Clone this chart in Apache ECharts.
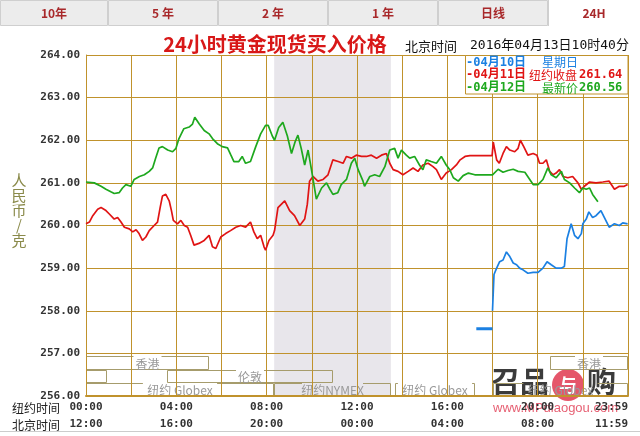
<!DOCTYPE html>
<html><head><meta charset="utf-8">
<script src="https://cdn.jsdelivr.net/npm/echarts@6/dist/echarts.min.js"></script>
<style>html,body{margin:0;padding:0;background:#fff}#c{width:640px;height:436px}</style>
</head><body><div id="c"></div>
<script>
// ---------------- data ----------------
const tabs = ['10年', '5 年', '2 年', '1 年', '日线', '24H'];
const nyTickLabels = ['00:00', '04:00', '08:00', '12:00', '16:00', '20:00', '23:59'];
const bjTickLabels = ['12:00', '16:00', '20:00', '00:00', '04:00', '08:00', '11:59'];
const titleText = '24小时黄金现货买入价格';
const timeText = ['北京时间', '2016年04月13日10时40分'];
const legendRows = [
  ['-04月10日', '星期日', ''],
  ['-04月11日', '纽约收盘', '261.64'],
  ['-04月12日', '最新价', '260.56']
];
// minutes after 00:00 New York time, price (CNY/g)
const blueOpen = [[1037, 257.58], [1080, 257.58]];
const blueSeries = [[1080,258.0],[1084,258.85],[1091,259.0],[1099,259.15],[1108,259.19],[1117,259.38],[1126,259.27],[1135,259.12],[1144,259.08],[1152,259.0],[1161,258.96],[1174,258.88],[1188,258.9],[1201,258.9],[1214,259.0],[1225,259.15],[1236,259.08],[1249,259.0],[1263,259.0],[1271,259.04],[1278,259.69],[1289,260.04],[1298,259.77],[1307,259.69],[1316,259.81],[1320,260.04],[1329,260.15],[1336,260.32],[1346,260.19],[1355,260.23],[1368,260.35],[1377,260.19],[1390,259.96],[1404,260.04],[1417,260.0],[1426,260.06],[1439,260.04]];
const redSeries = [[0,260.04],[9,260.08],[18,260.23],[31,260.38],[40,260.42],[53,260.35],[62,260.27],[75,260.15],[84,260.19],[93,260.08],[102,259.96],[115,259.92],[124,259.85],[133,259.9],[141,259.81],[150,259.65],[159,259.73],[168,259.88],[181,260.0],[190,260.08],[197,260.42],[203,260.69],[212,260.73],[221,260.58],[227,260.35],[232,260.12],[243,260.04],[252,260.12],[261,260.0],[270,259.96],[278,259.77],[287,259.54],[300,259.58],[314,259.65],[327,259.77],[336,259.5],[345,259.46],[358,259.73],[371,259.81],[384,259.88],[398,259.96],[411,260.0],[424,259.96],[437,260.08],[446,259.85],[455,259.69],[464,259.77],[473,259.5],[477,259.42],[486,259.65],[497,259.77],[501,259.88],[510,260.42],[528,260.58],[541,260.35],[554,260.23],[568,260.0],[581,260.15],[588,260.5],[594,261.04],[603,261.15],[616,261.04],[630,261.08],[643,261.19],[656,261.54],[670,261.5],[683,261.46],[692,261.62],[705,261.58],[718,261.65],[732,261.62],[745,261.62],[758,261.65],[772,261.58],[785,261.65],[798,261.69],[807,261.46],[816,261.31],[829,261.27],[842,261.19],[856,261.27],[869,261.35],[882,261.27],[895,261.42],[909,261.46],[922,261.38],[931,261.31],[944,261.08],[957,261.23],[971,261.31],[984,261.42],[994,261.54],[1007,261.62],[1020,261.64],[1055,261.64],[1079,261.64],[1082,261.96],[1091,261.54],[1098,261.46],[1108,261.69],[1117,261.85],[1126,261.77],[1139,261.73],[1148,261.81],[1154,262.0],[1163,261.85],[1174,261.65],[1188,261.69],[1198,261.65],[1205,261.46],[1214,261.46],[1223,261.54],[1232,261.27],[1241,261.19],[1249,261.23],[1258,261.31],[1267,261.15],[1280,261.12],[1293,261.15],[1307,261.0],[1316,260.85],[1324,260.92],[1338,261.02],[1355,261.0],[1373,261.02],[1390,261.04],[1404,260.85],[1417,260.92],[1430,260.92],[1439,260.96]];
const greenSeries = [[0,261.02],[22,261.0],[40,260.92],[53,260.85],[66,260.79],[75,260.75],[88,260.77],[97,260.88],[106,260.96],[119,260.92],[128,261.08],[142,261.15],[155,261.19],[168,261.27],[177,261.35],[185,261.58],[194,261.82],[203,261.85],[217,261.77],[230,261.73],[239,261.81],[247,262.04],[260,262.27],[274,262.31],[283,262.38],[289,262.54],[301,262.38],[314,262.23],[327,262.15],[336,262.04],[349,261.92],[362,261.85],[376,261.82],[385,261.65],[393,261.5],[406,261.5],[415,261.62],[424,261.46],[437,261.5],[451,261.85],[464,262.15],[477,262.35],[484,262.35],[495,262.1],[501,262.0],[512,262.3],[523,262.42],[535,262.1],[546,261.69],[555,261.95],[563,262.12],[572,261.8],[581,261.42],[590,261.77],[599,261.31],[612,260.62],[626,260.88],[639,261.0],[648,260.85],[656,260.73],[669,260.77],[678,260.96],[692,261.08],[705,261.46],[714,261.58],[723,261.31],[736,261.04],[740,260.92],[754,261.15],[767,261.19],[780,261.15],[794,261.38],[807,261.77],[820,261.81],[829,261.58],[838,261.77],[851,261.65],[860,261.58],[873,261.62],[886,261.42],[895,261.31],[904,261.54],[917,261.5],[931,261.46],[944,261.62],[957,261.42],[967,261.3],[976,261.12],[989,261.04],[1002,261.17],[1016,261.23],[1033,261.19],[1055,261.19],[1080,261.19],[1095,261.32],[1108,261.25],[1121,261.29],[1135,261.32],[1148,261.27],[1166,261.25],[1179,261.08],[1188,260.96],[1201,260.96],[1214,261.08],[1227,261.35],[1236,261.19],[1249,261.12],[1263,261.27],[1271,261.08],[1285,261.0],[1298,260.88],[1311,260.77],[1320,260.88],[1329,260.85],[1338,260.88],[1346,260.73],[1360,260.56]];
// NYMEX shaded session (minutes)
const nymexSession = [[500, 810]];
// market sessions: start, end, row (0 HK, 1 London, 2 NY), label
const sessions = [
  [0, 327, 0, '香港'],
  [1233, 1440, 0, '香港'],
  [0, 56, 1, ''],
  [215, 656, 1, '伦敦'],
  [0, 500, 2, '纽约 Globex'],
  [500, 810, 2, '纽约NYMEX'],
  [821, 1034, 2, '纽约 Globex'],
  [1080, 1440, 2, '纽约 Globex']
];
const yUnit = '人民币/克';
const rowHeaders = ['纽约时间', '北京时间'];

// ---------------- chart ----------------
const GOLD = '#c0922c';
const BOX = '#a69c6c';
const MONO = '"DejaVu Sans Mono","Noto Sans CJK SC",monospace';
const CJK = '"Noto Sans CJK SC",sans-serif';
const BLUE = '#1b80e2', RED = '#e01414', GREEN = '#1ea81e';
const rowEdges = [256.93, 256.6, 256.31, 256.0];

const chart = echarts.init(document.getElementById('c'), null, {renderer: 'canvas'});

const graphics = [];
// tabs
tabs.forEach((t, i) => {
  const x0 = i === 0 ? 0 : -2 + 110 * i;
  const x1 = i === tabs.length - 1 ? 640 : -2 + 110 * (i + 1);
  const active = i === tabs.length - 1;
  graphics.push({type: 'rect', z: 20, shape: {x: x0 + 0.5, y: 0.5, width: x1 - x0 - 1, height: active ? 27 : 25},
    style: {fill: active ? '#ffffff' : '#ececec', stroke: active ? '#ffffff' : '#cfcfcf', lineWidth: 1}});
  graphics.push({type: 'text', z: 21, style: {text: t, x: (x0 + x1) / 2, y: 13, align: 'center', verticalAlign: 'middle',
    font: 'bold 12px ' + CJK, fill: '#a8282a'}});
});
graphics.push({type: 'line', z: 21, shape: {x1: 548.5, y1: 0, x2: 548.5, y2: 26}, style: {stroke: '#cfcfcf'}});
// title
graphics.push({type: 'text', z: 20, style: {text: titleText, x: 275, y: 44, align: 'center', verticalAlign: 'middle',
  font: 'bold 20px ' + CJK, fill: '#d81818'}});
graphics.push({type: 'text', z: 20, style: {text: timeText[0], x: 405, y: 46, verticalAlign: 'middle', font: '13px ' + CJK, fill: '#111'}});
graphics.push({type: 'text', z: 20, style: {text: timeText[1], x: 470, y: 46, verticalAlign: 'middle', font: '13px ' + MONO, fill: '#111'}});
// legend box
graphics.push({type: 'rect', z: 20, shape: {x: 465.5, y: 55.5, width: 162.5, height: 38.5}, style: {fill: '#fff', stroke: GOLD, lineWidth: 1}});
const legColors = [BLUE, RED, GREEN];
const legY = [62.5, 75, 88];
legendRows.forEach((r, i) => {
  graphics.push({type: 'text', z: 21, style: {text: r[0], x: 466, y: legY[i], verticalAlign: 'middle', font: 'bold 12px ' + MONO, fill: legColors[i]}});
  graphics.push({type: 'text', z: 21, style: {text: r[1], x: i === 1 ? 529 : 542, y: legY[i], verticalAlign: 'middle', font: '12px ' + CJK, fill: legColors[i]}});
  if (r[2]) graphics.push({type: 'text', z: 21, style: {text: r[2], x: 579, y: legY[i], verticalAlign: 'middle', font: 'bold 12px ' + MONO, fill: legColors[i]}});
});
// y unit
graphics.push({type: 'text', z: 20, style: {text: yUnit.split('').join('\n'), x: 19, y: 210, align: 'center', verticalAlign: 'middle',
  font: '15px ' + CJK, lineHeight: 15, fill: '#8a8a4a'}});
// row headers
rowHeaders.forEach((t, i) => {
  graphics.push({type: 'text', z: 20, style: {text: t, x: 12, y: 408 + 17 * i, verticalAlign: 'middle', font: '12px ' + CJK, fill: '#222'}});
});
graphics.push({type: 'line', z: 20, shape: {x1: 0, y1: 431.5, x2: 640, y2: 431.5}, style: {stroke: '#cccccc'}});
// watermark
graphics.push({type: 'group', z: 30, children: [
  {type: 'text', style: {text: '召品', x: 491, y: 382, verticalAlign: 'middle', font: 'bold 29px ' + CJK, fill: '#2a2a2a', opacity: 0.92}},
  {type: 'circle', shape: {cx: 568, cy: 385, r: 16}, style: {fill: '#e2445a', opacity: 0.9}},
  {type: 'text', style: {text: '与', x: 568, y: 385, align: 'center', verticalAlign: 'middle', font: 'bold 18px ' + CJK, fill: '#fff'}},
  {type: 'text', style: {text: '购', x: 587, y: 382, verticalAlign: 'middle', font: 'bold 29px ' + CJK, fill: '#2a2a2a', opacity: 0.92}},
  {type: 'text', style: {text: 'www.MPdiaogou.com', x: 493, y: 408, verticalAlign: 'middle', font: '13px "Liberation Sans",sans-serif', fill: '#e2445a', opacity: 0.85}}
]});

function tickLabel(arr) {
  return function (v) { return v % 240 === 0 ? arr[v / 240] : ''; };
}

const option = {
  animation: false,
  backgroundColor: '#fff',
  grid: {left: 86, right: 12, top: 55, bottom: 40},
  xAxis: [{
    type: 'value', min: 0, max: 1440, interval: 120, z: 3,
    axisLine: {show: true, lineStyle: {color: GOLD, width: 2}},
    axisTick: {show: false},
    splitLine: {show: true, lineStyle: {color: GOLD, width: 1}},
    axisLabel: {formatter: tickLabel(nyTickLabels), margin: 6, color: '#333', fontFamily: MONO, fontWeight: 'bold', fontSize: 11, alignMaxLabel: 'right', hideOverlap: false}
  }, {
    type: 'value', min: 0, max: 1440, interval: 120, position: 'bottom', offset: 17, z: 3,
    axisLine: {show: false}, axisTick: {show: false}, splitLine: {show: false},
    axisLabel: {formatter: tickLabel(bjTickLabels), margin: 6, color: '#333', fontFamily: MONO, fontWeight: 'bold', fontSize: 11, alignMaxLabel: 'right', hideOverlap: false}
  }],
  yAxis: {
    type: 'value', min: 256, max: 264, interval: 1, z: 3,
    axisLine: {show: true, lineStyle: {color: GOLD, width: 1}},
    axisTick: {show: false},
    splitLine: {show: true, lineStyle: {color: GOLD, width: 1}},
    axisLabel: {formatter: v => v.toFixed(2), margin: 6, color: '#333', fontFamily: MONO, fontWeight: 'bold', fontSize: 11}
  },
  graphic: graphics,
  series: [
    {
      type: 'custom', z: 1, silent: true, data: nymexSession,
      renderItem: (p, api) => {
        const a = api.coord([api.value(0), 264]);
        const b = api.coord([api.value(1), 256]);
        return {type: 'rect', shape: {x: a[0], y: a[1], width: b[0] - a[0], height: b[1] - a[1]}, style: {fill: '#e8e6eb'}};
      }
    },
    {
      type: 'custom', z: 2, silent: true, data: sessions.map(s => [s[0], s[1], s[2]]),
      renderItem: (p, api) => {
        const row = api.value(2);
        const a = api.coord([api.value(0), rowEdges[row]]);
        const b = api.coord([api.value(1), rowEdges[row + 1]]);
        const x0 = Math.round(a[0]) + 0.5, x1 = Math.round(b[0]) - 0.5;
        const y0 = Math.round(a[1]) + 0.5, y1 = Math.round(b[1]) - 0.5;
        const label = sessions[p.dataIndex][3];
        const cx = (x0 + x1) / 2, cy = (y0 + y1) / 2;
        let w = 0;
        for (const ch of label) w += /[\u4e00-\u9fff]/.test(ch) ? 12 : 6.6;
        const st = {stroke: BOX, lineWidth: 1, fill: null};
        const ch = [
          {type: 'line', shape: {x1: x0, y1: y0, x2: x0, y2: y1}, style: st},
          {type: 'line', shape: {x1: x1, y1: y0, x2: x1, y2: y1}, style: st},
          {type: 'line', shape: {x1: x0, y1: y1, x2: x1, y2: y1}, style: st}
        ];
        if (label) {
          ch.push({type: 'line', shape: {x1: x0, y1: y0, x2: cx - w / 2 - 2, y2: y0}, style: st});
          ch.push({type: 'line', shape: {x1: cx + w / 2 + 2, y1: y0, x2: x1, y2: y0}, style: st});
          ch.push({type: 'text', style: {text: label, x: cx, y: cy + 1, align: 'center', verticalAlign: 'middle', font: '12px ' + CJK, fill: '#9a9a9a'}});
        } else {
          ch.push({type: 'line', shape: {x1: x0, y1: y0, x2: x1, y2: y0}, style: st});
        }
        return {type: 'group', children: ch};
      }
    },
    {type: 'line', z: 5, data: blueOpen, symbol: 'none', lineStyle: {color: BLUE, width: 3}, silent: true},
    {type: 'line', z: 5, data: blueSeries, symbol: 'none', lineStyle: {color: BLUE, width: 1.7}, silent: true},
    {type: 'line', z: 6, data: redSeries, symbol: 'none', lineStyle: {color: RED, width: 1.7}, silent: true},
    {type: 'line', z: 7, data: greenSeries, symbol: 'none', lineStyle: {color: GREEN, width: 1.7}, silent: true}
  ]
};
chart.setOption(option);
</script>
</body></html>
